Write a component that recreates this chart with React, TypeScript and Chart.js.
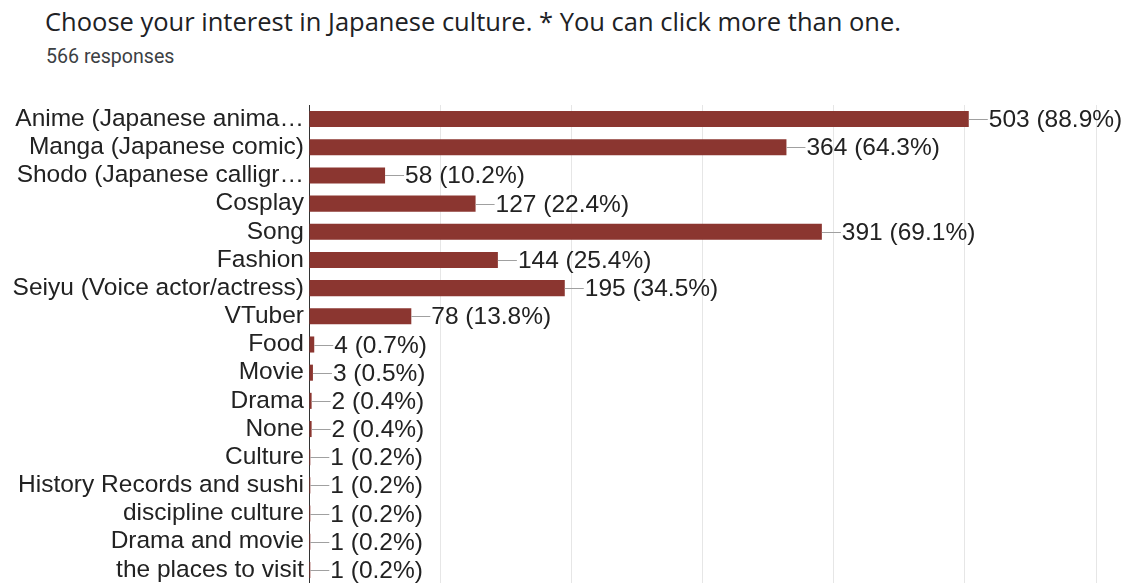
import React, { useEffect, useRef } from "react";
import { Chart, registerables } from "chart.js";

Chart.register(...registerables);

const categories = [
  "Anime (Japanese anima…",
  "Manga (Japanese comic)",
  "Shodo (Japanese calligr…",
  "Cosplay",
  "Song",
  "Fashion",
  "Seiyu (Voice actor/actress)",
  "VTuber",
  "Food",
  "Movie",
  "Drama",
  "None",
  "Culture",
  "History Records and sushi",
  "discipline culture",
  "Drama and movie",
  "the places to visit",
];

const counts = [503, 364, 58, 127, 391, 144, 195, 78, 4, 3, 2, 2, 1, 1, 1, 1, 1];

const percents = [
  "88.9%", "64.3%", "10.2%", "22.4%", "69.1%", "25.4%", "34.5%", "13.8%",
  "0.7%", "0.5%", "0.4%", "0.4%", "0.2%", "0.2%", "0.2%", "0.2%", "0.2%",
];

const xTicks = [0, 100, 200, 300, 400, 500, 600];

const LABEL_FONT = "Liberation Sans, Arial, sans-serif";
const LABEL_SIZE = 24.5;

const valueLabelPlugin = {
  id: "valueLabels",
  afterDatasetsDraw(chart: any) {
    const ctx = chart.ctx;
    const meta = chart.getDatasetMeta(0);
    ctx.save();
    ctx.font = `${LABEL_SIZE}px ${LABEL_FONT}`;
    ctx.textBaseline = "middle";
    ctx.textAlign = "left";
    meta.data.forEach((bar: any, i: number) => {
      const x = bar.x;
      const y = Math.round(bar.y);
      ctx.strokeStyle = "#a0a0a0";
      ctx.lineWidth = 1;
      ctx.beginPath();
      ctx.moveTo(x, y + 0.5);
      ctx.lineTo(x + 19, y + 0.5);
      ctx.stroke();
      ctx.fillStyle = "#222222";
      ctx.fillText(`${counts[i]} (${percents[i]})`, x + 20, y + 1);
    });
    ctx.restore();
  },
};

export default function App() {
  const canvasRef = useRef<HTMLCanvasElement | null>(null);

  useEffect(() => {
    document.body.style.margin = "0";
    document.body.style.overflow = "hidden";
    const canvas = canvasRef.current;
    if (!canvas) return;
    const chart = new Chart(canvas, {
      type: "bar",
      data: {
        labels: categories,
        datasets: [
          {
            data: counts,
            backgroundColor: "#8b3630",
            borderWidth: 0,
            barPercentage: 0.57,
            categoryPercentage: 1,
          },
        ],
      },
      options: {
        indexAxis: "y",
        animation: false,
        responsive: false,
        maintainAspectRatio: false,
        layout: { padding: { top: 105, right: 30, bottom: 0, left: 0 } },
        plugins: {
          legend: { display: false },
          tooltip: { enabled: false },
          title: { display: false },
        },
        scales: {
          x: {
            min: xTicks[0],
            max: xTicks[xTicks.length - 1],
            afterBuildTicks: (s: any) => {
              s.ticks = xTicks.map((v) => ({ value: v }));
            },
            afterFit: (s: any) => {
              s.height = 0;
              s.paddingLeft = 0;
              s.paddingRight = 0;
            },
            ticks: { display: false },
            grid: { color: "#e6e6e6", lineWidth: 1, drawTicks: false },
            border: { display: false },
          },
          y: {
            afterFit: (s: any) => {
              s.width = 309;
              s.paddingTop = 0;
              s.paddingBottom = 0;
            },
            grid: { display: false, drawTicks: false },
            border: { display: true, color: "#333333", width: 1 },
            ticks: {
              color: "#222222",
              padding: 5,
              autoSkip: false,
              font: { family: LABEL_FONT, size: LABEL_SIZE },
            },
          },
        },
      },
      plugins: [valueLabelPlugin],
    });
    return () => chart.destroy();
  }, []);

  return (
    <div style={{ position: "fixed", left: 0, top: 0, width: 1126, height: 583, overflow: "hidden", background: "#fff" }}>
      <div
        style={{
          position: "absolute",
          left: 45,
          top: 3,
          fontFamily: "'Open Sans', sans-serif",
          fontSize: 25.5,
          lineHeight: "36px",
          color: "#202124",
          whiteSpace: "nowrap",
        }}
      >
        Choose your interest in Japanese culture. * You can click more than one.
      </div>
      <div
        style={{
          position: "absolute",
          left: 46,
          top: 45,
          fontFamily: "Roboto, sans-serif",
          fontSize: 19.6,
          lineHeight: "24px",
          color: "#3c4043",
          whiteSpace: "nowrap",
        }}
      >
        566 responses
      </div>
      <canvas ref={canvasRef} width={1126} height={584} style={{ position: "absolute", left: 0, top: 0 }} />
    </div>
  );
}
